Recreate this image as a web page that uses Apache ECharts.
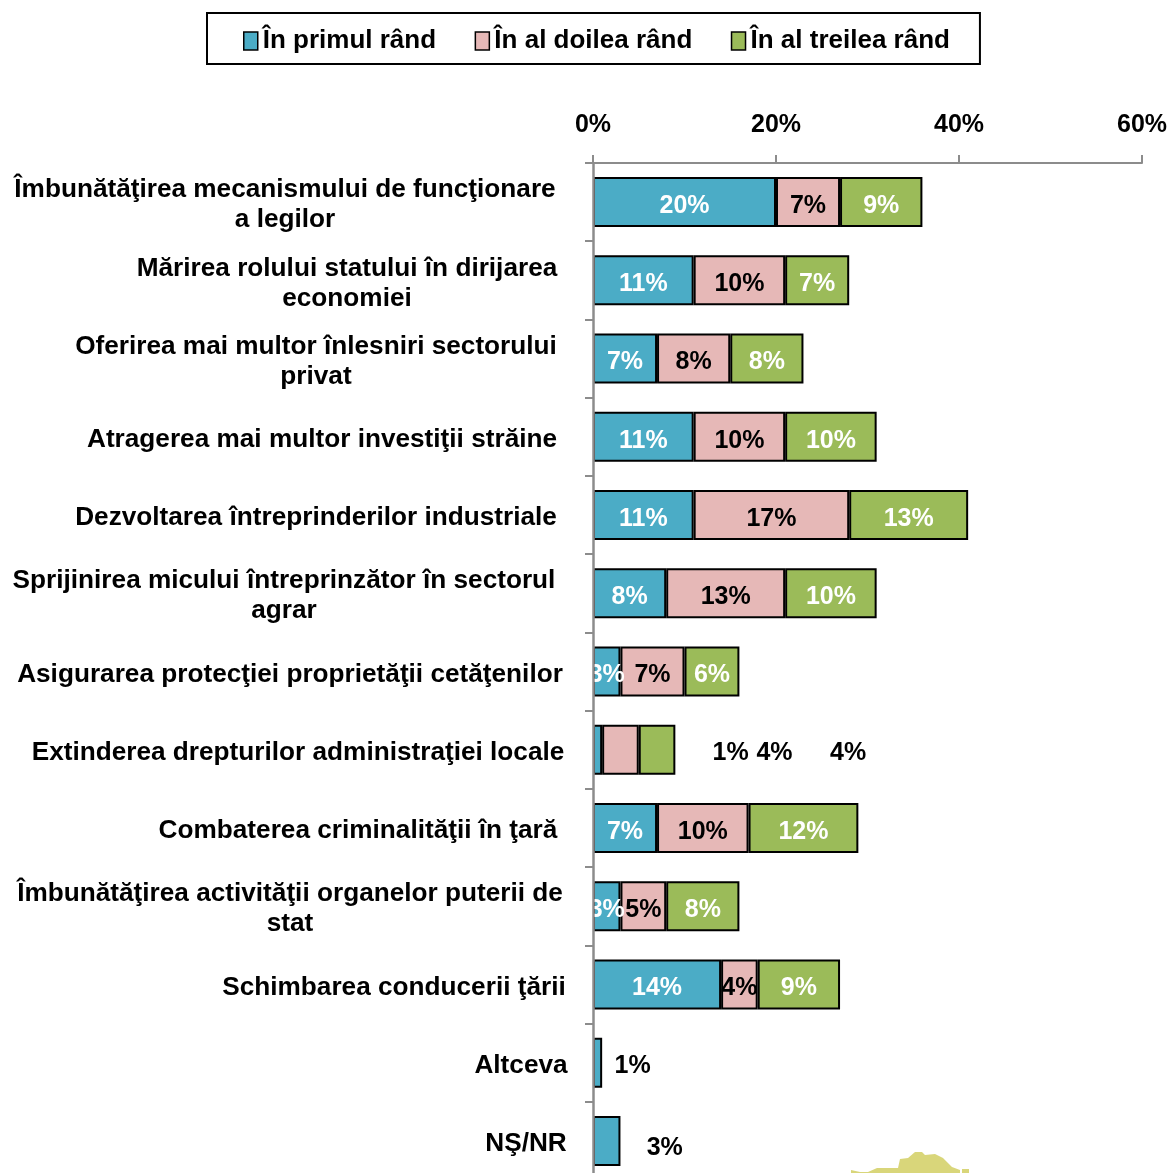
<!DOCTYPE html>
<html>
<head>
<meta charset="utf-8">
<title>Chart</title>
<style>
    html, body { margin: 0; padding: 0; background: #fff; }
    #chart { width: 1169px; height: 1173px; }
</style>
<script src="https://cdn.jsdelivr.net/npm/echarts@6/dist/echarts.min.js"></script>
</head>
<body>
<div id="chart"></div>
<script>
const categories = [
    "Îmbunătăţirea mecanismului de funcţionare\na legilor",
    "Mărirea rolului statului în dirijarea\neconomiei",
    "Oferirea mai multor înlesniri sectorului\nprivat",
    "Atragerea mai multor investiţii străine",
    "Dezvoltarea întreprinderilor industriale",
    "Sprijinirea micului întreprinzător în sectorul\nagrar",
    "Asigurarea protecţiei proprietăţii cetăţenilor",
    "Extinderea drepturilor administraţiei locale",
    "Combaterea criminalităţii în ţară",
    "Îmbunătăţirea activităţii organelor puterii de\nstat",
    "Schimbarea conducerii ţării",
    "Altceva",
    "NŞ/NR"
];
const seriesNames = ["În primul rând", "În al doilea rând", "În al treilea rând"];
const firstValues = [20, 11, 7, 11, 11, 8, 3, 1, 7, 3, 14, 1, 3];
const secondValues = [7, 10, 8, 10, 17, 13, 7, 4, 10, 5, 4, null, null];
const thirdValues = [9, 7, 8, 10, 13, 10, 6, 4, 12, 8, 9, null, null];
const xTicks = [0, 20, 40, 60];

// horizontal centre of every category label, they were placed by hand in the original
const labelCentres = [285, 347, 316, 322, 316, 284, 290, 298, 358, 290, 394, 521, 526];
const axisX = 593;
const labelMargin = 10;

// labels pushed outside of their bars: category index -> [dx, dy]
const firstOffsets = { 7: [133, 3], 11: [35, 3], 12: [58, 7] };
const secondOffsets = { 7: [154, 3] };
const thirdOffsets = { 7: [191, 3] };

// the piece of a map that shows at the bottom edge of the original
const mapShape = [[851, 1170], [860, 1172], [868, 1172], [877, 1168], [898, 1168], [900, 1159], [908, 1158], [915, 1152], [922, 1152], [925, 1155], [935, 1154], [943, 1158], [952, 1167], [960, 1170], [960, 1173], [851, 1173]];
const mapCorner = [[962, 1169], [969, 1169], [969, 1173], [962, 1173]];

const fontFamily = '"Liberation Sans", Arial, sans-serif';
const black = '#000';

const richStyles = {};
labelCentres.forEach(function (c, i) {
    richStyles['c' + i] = {
        width: 2 * (axisX - labelMargin - c),
        align: 'center',
        fontFamily: fontFamily,
        fontSize: 26.2,
        fontWeight: 'bold',
        lineHeight: 30,
        color: black
    };
});

function buildData(values, offsets) {
    return values.map(function (v, i) {
        const item = { value: v };
        if (offsets[i]) {
            item.label = { offset: offsets[i], color: black };
        }
        return item;
    });
}

function buildSeries(name, values, offsets, fill, labelColor) {
    return {
        name: name,
        type: 'bar',
        stack: 'total',
        barWidth: 50,
        data: buildData(values, offsets),
        itemStyle: { color: fill, borderColor: black, borderWidth: 2 },
        label: {
            show: true,
            position: 'inside',
            offset: [0, 4],
            formatter: function (p) { return p.value == null ? '' : p.value + '%'; },
            color: labelColor,
            fontFamily: fontFamily,
            fontSize: 25,
            fontWeight: 'bold'
        }
    };
}

const myChart = echarts.init(document.getElementById('chart'), null, { renderer: 'canvas' });

myChart.setOption({
    animation: false,
    backgroundColor: '#fff',
    legend: {
        left: 207,
        top: 13,
        padding: [15, 30, 10, 36],
        icon: 'rect',
        borderColor: black,
        borderWidth: 2,
        itemWidth: 14,
        itemHeight: 18,
        itemGap: 38.5,
        itemStyle: { borderColor: black, borderWidth: 1.5 },
        textStyle: { color: black, fontFamily: fontFamily, fontSize: 26, fontWeight: 'bold' },
        data: seriesNames
    },
    grid: { left: axisX, top: 163, width: 549, height: 1017, outerBoundsMode: 'none' },
    xAxis: {
        type: 'value',
        position: 'top',
        min: 0,
        max: 60,
        interval: 20,
        splitLine: { show: false },
        axisLine: { show: true, lineStyle: { color: '#8c8c8c', width: 2 } },
        axisTick: { show: true, length: 8, lineStyle: { color: '#8c8c8c', width: 2 } },
        axisLabel: {
            margin: 25,
            color: black,
            fontFamily: fontFamily,
            fontSize: 25,
            fontWeight: 'bold',
            customValues: xTicks,
            formatter: '{value}%'
        }
    },
    yAxis: {
        type: 'category',
        inverse: true,
        z: 5,
        data: categories,
        axisLine: { show: true, onZero: false, lineStyle: { color: '#8c8c8c', width: 2.5 } },
        axisTick: { show: true, length: 8, lineStyle: { color: '#8c8c8c', width: 2 } },
        axisLabel: {
            margin: labelMargin,
            interval: 0,
            padding: [6, 0, 0, 0],
            formatter: function (value, index) {
                return value.split('\n').map(function (line) {
                    return '{c' + index + '|' + line + '}';
                }).join('\n');
            },
            rich: richStyles
        }
    },
    series: [
        buildSeries(seriesNames[0], firstValues, firstOffsets, '#4BACC6', '#fff'),
        buildSeries(seriesNames[1], secondValues, secondOffsets, '#E6B8B7', black),
        buildSeries(seriesNames[2], thirdValues, thirdOffsets, '#9BBB59', '#fff')
    ],
    graphic: [
        { type: 'polygon', silent: true, shape: { points: mapShape }, style: { fill: '#D9D67A' } },
        { type: 'polygon', silent: true, shape: { points: mapCorner }, style: { fill: '#D9D67A' } }
    ]
});
</script>
</body>
</html>
